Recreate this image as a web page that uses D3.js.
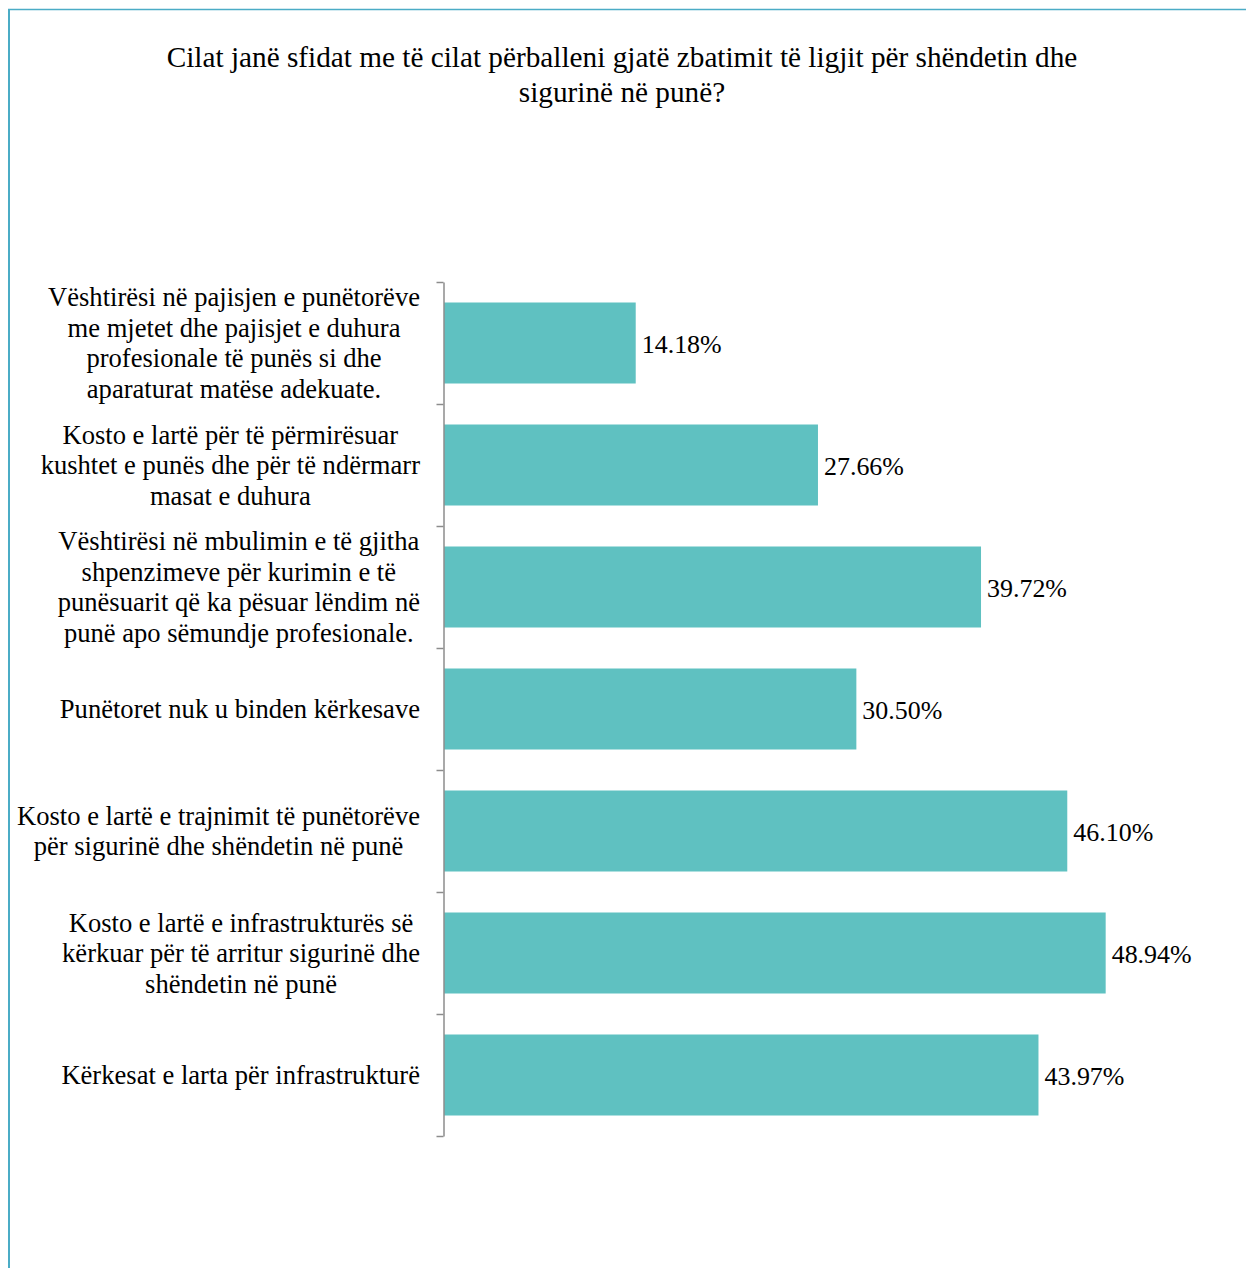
<!DOCTYPE html>
<html><head><meta charset="utf-8">
<script src="https://cdn.jsdelivr.net/npm/d3@7"></script>
<style>
html,body{margin:0;padding:0;background:#fff;}
svg{display:block;}
</style></head>
<body>
<svg id="chart" width="1246" height="1268"></svg>
<script>
const titleLines = [
  "Cilat janë sfidat me të cilat përballeni gjatë zbatimit të ligjit për shëndetin dhe",
  "sigurinë në punë?"
];
const categories = [
  "Vështirësi në pajisjen e punëtorëve\nme mjetet dhe pajisjet e duhura\nprofesionale të punës si dhe\naparaturat matëse adekuate.",
  "Kosto e lartë për të përmirësuar\nkushtet e punës dhe për të ndërmarr\nmasat e duhura",
  "Vështirësi në mbulimin e të gjitha\nshpenzimeve për kurimin e të\npunësuarit që ka pësuar lëndim në\npunë apo sëmundje profesionale.",
  "Punëtoret nuk u binden kërkesave",
  "Kosto e lartë e trajnimit të punëtorëve\npër sigurinë dhe shëndetin në punë",
  "Kosto e lartë e infrastrukturës së\nkërkuar për të arritur sigurinë dhe\nshëndetin në punë",
  "Kërkesat e larta për infrastrukturë"
];
const values = [14.18, 27.66, 39.72, 30.50, 46.10, 48.94, 43.97];
const valueLabels = ["14.18%", "27.66%", "39.72%", "30.50%", "46.10%", "48.94%", "43.97%"];

// pick an installed Times-like serif
const cv = document.createElement("canvas").getContext("2d");
function w(f) { cv.font = "40px " + f; return cv.measureText("Cilat janë sfidat mmmwwwiii 0123%").width; }
const base = w("monospace"), base2 = w("sans-serif");
const cands = ["'Liberation Serif'", "'Times New Roman'", "Times", "Tinos", "'Nimbus Roman'", "'Noto Serif'", "'DejaVu Serif'"];
let fam = "serif";
for (const c of cands) {
  const a = w(c + ", monospace"), b = w(c + ", sans-serif");
  if (Math.abs(a - base) > 0.5 && Math.abs(b - base2) > 0.5) { fam = c; break; }
}
const FONT = fam + ", serif";

const svg = d3.select("#chart");
const border = "#4BACC6";
const barColor = "#5FC1C1";

svg.append("line").attr("x1", 9).attr("x2", 9).attr("y1", 9).attr("y2", 1268)
  .attr("stroke", border).attr("stroke-width", 2);
svg.append("line").attr("x1", 8).attr("x2", 1246).attr("y1", 9.5).attr("y2", 9.5)
  .attr("stroke", border).attr("stroke-width", 1.3);

function fitSize(txt, target) {
  cv.font = "100px " + FONT;
  return 100 * target / cv.measureText(txt).width;
}
const titleSize = fitSize(titleLines[0], 911);
const labelSize = fitSize("Kosto e lartë e trajnimit të punëtorëve", 403);
const valSize = Math.min(labelSize, fitSize("14.18%", 80));

svg.append("g").selectAll("text").data(titleLines).join("text")
  .attr("x", 622).attr("y", (d, i) => 67 + i * 35)
  .attr("text-anchor", "middle")
  .style("font-family", FONT).style("font-size", titleSize + "px")
  .style("fill", "#000")
  .text(d => d);

const x = d3.scaleLinear().domain([0, 50]).range([444, 1120]);
const y = d3.scaleBand().domain(categories).range([282, 1136])
  .paddingInner(0.336).paddingOuter(0.168);

svg.append("g").selectAll("rect").data(values).join("rect")
  .attr("x", x(0))
  .attr("y", (d, i) => y(categories[i]))
  .attr("width", d => x(d) - x(0))
  .attr("height", y.bandwidth())
  .attr("fill", barColor);

const yb = d3.scaleLinear().domain([0, categories.length]).range([282, 1136]);
const axis = d3.axisLeft(yb).tickValues(d3.range(categories.length + 1))
  .tickSize(7).tickSizeOuter(0).tickFormat("");
const ag = svg.append("g").attr("transform", "translate(443.5,0)").call(axis);
ag.selectAll("path,line").attr("stroke", "#8c8c8c").attr("stroke-width", 1.5);

svg.append("g").selectAll("text").data(values).join("text")
  .attr("x", d => x(d) + 6)
  .attr("y", (d, i) => y(categories[i]) + y.bandwidth() / 2 + 10)
  .style("font-family", FONT).style("font-size", valSize + "px")
  .style("fill", "#000")
  .text((d, i) => valueLabels[i]);

const lg = svg.append("g");
const lineH = 30.5;
categories.forEach((c, i) => {
  const lines = c.split("\n");
  const g = lg.append("g");
  const cy = y(c) + y.bandwidth() / 2;
  const t = g.selectAll("text").data(lines).join("text")
    .style("font-family", FONT).style("font-size", labelSize + "px")
    .style("fill", "#000")
    .attr("text-anchor", "middle")
    .attr("y", (d, k) => cy + (k - (lines.length - 1) / 2) * lineH + 9)
    .text(d => d);
  let maxW = 0;
  t.each(function () { maxW = Math.max(maxW, this.getComputedTextLength()); });
  t.attr("x", 420 - maxW / 2);
});
</script>
</body></html>
